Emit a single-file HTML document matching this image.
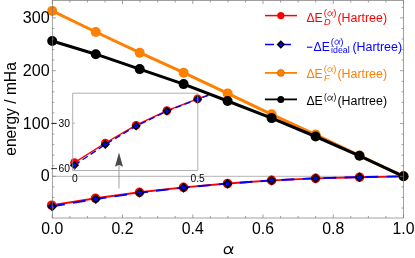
<!DOCTYPE html><html><head><meta charset="utf-8"><style>html,body{margin:0;padding:0;background:#fff;}body{width:415px;height:258px;overflow:hidden;position:relative;font-family:"Liberation Sans",sans-serif;}</style></head><body><svg width="415" height="258" viewBox="0 0 415 258" style="position:absolute;left:0;top:0;will-change:transform;font-family:'Liberation Sans',sans-serif">
<line x1="52.3" y1="176.3" x2="403.5" y2="176.3" stroke="#a0a0a0" stroke-width="0.8"/>
<line x1="119.0" y1="188.4" x2="119.0" y2="164" stroke="#505050" stroke-width="0.55"/>
<path d="M119.0,152.6 L123,166.7 L119.0,164.8 L115.0,166.7 Z" fill="#4a4a4a"/>
<polyline points="52.2,205.2 95.8,198.3 139.7,192.3 183.6,187.4 227.6,183.5 271.6,180.4 315.6,178.4 359.5,177.2 403.5,176.4" fill="none" stroke="#ff0000" stroke-width="1.9"/>
<circle cx="51.7" cy="205.2" r="4.8" fill="#ff0000" /><circle cx="95.5" cy="198.3" r="4.8" fill="#ff0000" /><circle cx="139.5" cy="192.3" r="4.8" fill="#ff0000" /><circle cx="183.5" cy="187.4" r="4.8" fill="#ff0000" /><circle cx="227.5" cy="183.5" r="4.8" fill="#ff0000" /><circle cx="271.6" cy="180.4" r="4.8" fill="#ff0000" /><circle cx="315.6" cy="178.4" r="4.8" fill="#ff0000" /><circle cx="359.5" cy="177.2" r="4.8" fill="#ff0000" /><circle cx="403.5" cy="176.4" r="4.8" fill="#ff0000" />
<polyline points="52.2,206.4 95.8,199.0 139.7,192.7 183.6,187.6 227.6,183.6 271.6,180.4 315.6,178.3 359.5,177.1 403.5,176.3" fill="none" stroke="#0000ff" stroke-width="1.9" stroke-dasharray="12.8 8.2"/>
<path d="M52.2,202.7 L56.0,206.5 L52.2,210.3 L48.4,206.5 Z" fill="#0000ff" stroke="#000" stroke-width="1.6"/><path d="M95.8,195.3 L99.6,199.1 L95.8,202.9 L92.0,199.1 Z" fill="#0000ff" stroke="#000" stroke-width="1.6"/><path d="M139.7,189.0 L143.5,192.8 L139.7,196.6 L135.9,192.8 Z" fill="#0000ff" stroke="#000" stroke-width="1.6"/><path d="M183.6,183.9 L187.4,187.7 L183.6,191.5 L179.8,187.7 Z" fill="#0000ff" stroke="#000" stroke-width="1.6"/><path d="M227.6,179.9 L231.4,183.7 L227.6,187.5 L223.8,183.7 Z" fill="#0000ff" stroke="#000" stroke-width="1.6"/><path d="M271.6,176.7 L275.4,180.5 L271.6,184.3 L267.8,180.5 Z" fill="#0000ff" stroke="#000" stroke-width="1.6"/><path d="M315.6,174.6 L319.4,178.4 L315.6,182.2 L311.8,178.4 Z" fill="#0000ff" stroke="#000" stroke-width="1.6"/><path d="M359.5,173.4 L363.3,177.2 L359.5,181.0 L355.7,177.2 Z" fill="#0000ff" stroke="#000" stroke-width="1.6"/><path d="M403.5,172.6 L407.3,176.4 L403.5,180.2 L399.7,176.4 Z" fill="#0000ff" stroke="#000" stroke-width="1.6"/>
<polyline points="74.5,162.6 105.3,143.0 136.1,125.2 166.9,110.6 197.6,98.9 208.3,95.1" fill="none" stroke="#ff0000" stroke-width="1.4"/>
<circle cx="74.5" cy="162.6" r="4.3" fill="#ff0000" /><circle cx="105.3" cy="143.0" r="4.3" fill="#ff0000" /><circle cx="136.1" cy="125.2" r="4.3" fill="#ff0000" /><circle cx="166.9" cy="110.6" r="4.3" fill="#ff0000" /><circle cx="197.6" cy="98.9" r="4.3" fill="#ff0000" />
<polyline points="74.5,165.2 105.3,144.4 136.1,126.0 166.9,111.1 197.6,99.2 208.3,95.3" fill="none" stroke="#0000ff" stroke-width="1.4" stroke-dasharray="6.3 3.4"/>
<path d="M74.5,161.7 L78.0,165.2 L74.5,168.7 L71.0,165.2 Z" fill="#0000ff" stroke="#000" stroke-width="1.5"/><path d="M105.3,140.9 L108.8,144.4 L105.3,147.9 L101.8,144.4 Z" fill="#0000ff" stroke="#000" stroke-width="1.5"/><path d="M136.1,122.5 L139.6,126.0 L136.1,129.5 L132.6,126.0 Z" fill="#0000ff" stroke="#000" stroke-width="1.5"/><path d="M166.9,107.6 L170.4,111.1 L166.9,114.6 L163.4,111.1 Z" fill="#0000ff" stroke="#000" stroke-width="1.5"/><path d="M197.6,95.7 L201.1,99.2 L197.6,102.7 L194.1,99.2 Z" fill="#0000ff" stroke="#000" stroke-width="1.5"/>
<polyline points="52.2,10.9 95.8,32.0 139.7,52.7 183.6,72.7 227.6,93.4 271.6,114.3 315.6,134.6 359.5,155.5 403.5,176.3" fill="none" stroke="#ff8000" stroke-width="3.0" stroke-linejoin="round"/>
<circle cx="52.2" cy="10.9" r="5.0" fill="#ff8000" /><circle cx="95.8" cy="32.0" r="5.0" fill="#ff8000" /><circle cx="139.7" cy="52.7" r="5.0" fill="#ff8000" /><circle cx="183.6" cy="72.7" r="5.0" fill="#ff8000" /><circle cx="227.6" cy="93.4" r="5.0" fill="#ff8000" /><circle cx="271.6" cy="114.3" r="5.0" fill="#ff8000" /><circle cx="315.6" cy="134.6" r="5.0" fill="#ff8000" /><circle cx="359.5" cy="155.5" r="5.0" fill="#ff8000" /><circle cx="403.5" cy="176.3" r="5.0" fill="#ff8000" />
<polyline points="52.2,41.0 95.8,54.2 139.7,69.1 183.6,84.1 227.6,101.0 271.6,118.1 315.6,136.5 359.5,155.8 403.5,176.3" fill="none" stroke="#000" stroke-width="3.0" stroke-linejoin="round"/>
<circle cx="52.2" cy="41.0" r="5.0" fill="#000" /><circle cx="95.8" cy="54.2" r="5.0" fill="#000" /><circle cx="139.7" cy="69.1" r="5.0" fill="#000" /><circle cx="183.6" cy="84.1" r="5.0" fill="#000" /><circle cx="227.6" cy="101.0" r="5.0" fill="#000" /><circle cx="271.6" cy="118.1" r="5.0" fill="#000" /><circle cx="315.6" cy="136.5" r="5.0" fill="#000" /><circle cx="359.5" cy="155.8" r="5.0" fill="#000" /><circle cx="403.5" cy="176.3" r="5.0" fill="#000" />
<g stroke="#787878" stroke-width="0.7" fill="none">
<rect x="52.3" y="0.5" width="351.2" height="217.5"/>
<line x1="52.3" y1="218.0" x2="52.3" y2="214.5"/>
<line x1="52.3" y1="0.5" x2="52.3" y2="4.0"/>
<line x1="69.9" y1="218.0" x2="69.9" y2="216.0"/>
<line x1="69.9" y1="0.5" x2="69.9" y2="2.5"/>
<line x1="87.4" y1="218.0" x2="87.4" y2="216.0"/>
<line x1="87.4" y1="0.5" x2="87.4" y2="2.5"/>
<line x1="105.0" y1="218.0" x2="105.0" y2="216.0"/>
<line x1="105.0" y1="0.5" x2="105.0" y2="2.5"/>
<line x1="122.5" y1="218.0" x2="122.5" y2="214.5"/>
<line x1="122.5" y1="0.5" x2="122.5" y2="4.0"/>
<line x1="140.1" y1="218.0" x2="140.1" y2="216.0"/>
<line x1="140.1" y1="0.5" x2="140.1" y2="2.5"/>
<line x1="157.7" y1="218.0" x2="157.7" y2="216.0"/>
<line x1="157.7" y1="0.5" x2="157.7" y2="2.5"/>
<line x1="175.2" y1="218.0" x2="175.2" y2="216.0"/>
<line x1="175.2" y1="0.5" x2="175.2" y2="2.5"/>
<line x1="192.8" y1="218.0" x2="192.8" y2="214.5"/>
<line x1="192.8" y1="0.5" x2="192.8" y2="4.0"/>
<line x1="210.3" y1="218.0" x2="210.3" y2="216.0"/>
<line x1="210.3" y1="0.5" x2="210.3" y2="2.5"/>
<line x1="227.9" y1="218.0" x2="227.9" y2="216.0"/>
<line x1="227.9" y1="0.5" x2="227.9" y2="2.5"/>
<line x1="245.5" y1="218.0" x2="245.5" y2="216.0"/>
<line x1="245.5" y1="0.5" x2="245.5" y2="2.5"/>
<line x1="263.0" y1="218.0" x2="263.0" y2="214.5"/>
<line x1="263.0" y1="0.5" x2="263.0" y2="4.0"/>
<line x1="280.6" y1="218.0" x2="280.6" y2="216.0"/>
<line x1="280.6" y1="0.5" x2="280.6" y2="2.5"/>
<line x1="298.1" y1="218.0" x2="298.1" y2="216.0"/>
<line x1="298.1" y1="0.5" x2="298.1" y2="2.5"/>
<line x1="315.7" y1="218.0" x2="315.7" y2="216.0"/>
<line x1="315.7" y1="0.5" x2="315.7" y2="2.5"/>
<line x1="333.3" y1="218.0" x2="333.3" y2="214.5"/>
<line x1="333.3" y1="0.5" x2="333.3" y2="4.0"/>
<line x1="350.8" y1="218.0" x2="350.8" y2="216.0"/>
<line x1="350.8" y1="0.5" x2="350.8" y2="2.5"/>
<line x1="368.4" y1="218.0" x2="368.4" y2="216.0"/>
<line x1="368.4" y1="0.5" x2="368.4" y2="2.5"/>
<line x1="385.9" y1="218.0" x2="385.9" y2="216.0"/>
<line x1="385.9" y1="0.5" x2="385.9" y2="2.5"/>
<line x1="403.5" y1="218.0" x2="403.5" y2="214.5"/>
<line x1="403.5" y1="0.5" x2="403.5" y2="4.0"/>
<line x1="52.3" y1="208.0" x2="54.3" y2="208.0"/>
<line x1="403.5" y1="208.0" x2="401.5" y2="208.0"/>
<line x1="52.3" y1="197.4" x2="54.3" y2="197.4"/>
<line x1="403.5" y1="197.4" x2="401.5" y2="197.4"/>
<line x1="52.3" y1="186.9" x2="54.3" y2="186.9"/>
<line x1="403.5" y1="186.9" x2="401.5" y2="186.9"/>
<line x1="52.3" y1="176.3" x2="55.8" y2="176.3"/>
<line x1="403.5" y1="176.3" x2="400.0" y2="176.3"/>
<line x1="52.3" y1="165.7" x2="54.3" y2="165.7"/>
<line x1="403.5" y1="165.7" x2="401.5" y2="165.7"/>
<line x1="52.3" y1="155.2" x2="54.3" y2="155.2"/>
<line x1="403.5" y1="155.2" x2="401.5" y2="155.2"/>
<line x1="52.3" y1="144.6" x2="54.3" y2="144.6"/>
<line x1="403.5" y1="144.6" x2="401.5" y2="144.6"/>
<line x1="52.3" y1="134.1" x2="54.3" y2="134.1"/>
<line x1="403.5" y1="134.1" x2="401.5" y2="134.1"/>
<line x1="52.3" y1="123.5" x2="55.8" y2="123.5"/>
<line x1="403.5" y1="123.5" x2="400.0" y2="123.5"/>
<line x1="52.3" y1="112.9" x2="54.3" y2="112.9"/>
<line x1="403.5" y1="112.9" x2="401.5" y2="112.9"/>
<line x1="52.3" y1="102.4" x2="54.3" y2="102.4"/>
<line x1="403.5" y1="102.4" x2="401.5" y2="102.4"/>
<line x1="52.3" y1="91.8" x2="54.3" y2="91.8"/>
<line x1="403.5" y1="91.8" x2="401.5" y2="91.8"/>
<line x1="52.3" y1="81.3" x2="54.3" y2="81.3"/>
<line x1="403.5" y1="81.3" x2="401.5" y2="81.3"/>
<line x1="52.3" y1="70.7" x2="55.8" y2="70.7"/>
<line x1="403.5" y1="70.7" x2="400.0" y2="70.7"/>
<line x1="52.3" y1="60.1" x2="54.3" y2="60.1"/>
<line x1="403.5" y1="60.1" x2="401.5" y2="60.1"/>
<line x1="52.3" y1="49.6" x2="54.3" y2="49.6"/>
<line x1="403.5" y1="49.6" x2="401.5" y2="49.6"/>
<line x1="52.3" y1="39.0" x2="54.3" y2="39.0"/>
<line x1="403.5" y1="39.0" x2="401.5" y2="39.0"/>
<line x1="52.3" y1="28.5" x2="54.3" y2="28.5"/>
<line x1="403.5" y1="28.5" x2="401.5" y2="28.5"/>
<line x1="52.3" y1="17.9" x2="55.8" y2="17.9"/>
<line x1="403.5" y1="17.9" x2="400.0" y2="17.9"/>
<line x1="52.3" y1="7.3" x2="54.3" y2="7.3"/>
<line x1="403.5" y1="7.3" x2="401.5" y2="7.3"/>
</g>
<g stroke="#9a9a9a" stroke-width="0.8" fill="none"><path d="M72.7,170.5 L72.7,93.2 L197.8,93.2 L197.8,170.5 Z M72.7,123.3 h2 M72.7,168.6 h2"/></g>
<line x1="265" y1="15.6" x2="297" y2="15.6" stroke="#ff0000" stroke-width="1.5"/><circle cx="280.8" cy="15.6" r="3.6" fill="#ff0000"/>
<line x1="265" y1="44.6" x2="291" y2="44.6" stroke="#0000ff" stroke-width="1.5" stroke-dasharray="9 9"/>
<path d="M280.8,41.4 L284.0,44.6 L280.8,47.8 L277.6,44.6 Z" fill="#0000ff" stroke="#000" stroke-width="1.5"/>
<line x1="265" y1="72.9" x2="297" y2="72.9" stroke="#ff8000" stroke-width="1.8"/><circle cx="280.8" cy="72.9" r="3.5" fill="#ff8000" stroke="#c06000" stroke-width="0.6"/>
<line x1="265" y1="99.4" x2="297" y2="99.4" stroke="#000" stroke-width="1.8"/><circle cx="280.8" cy="99.4" r="3.5" fill="#000"/>
<g font-size="16.1" fill="#000" text-anchor="end">
<text x="49.6" y="181.3">0</text>
<text x="49.6" y="128.5">100</text>
<text x="49.6" y="75.7">200</text>
<text x="49.6" y="22.9">300</text>
</g>
<g font-size="15.8" fill="#000" text-anchor="middle">
<text x="52.3" y="234">0.0</text>
<text x="122.5" y="234">0.2</text>
<text x="192.8" y="234">0.4</text>
<text x="263.0" y="234">0.6</text>
<text x="333.3" y="234">0.8</text>
<text x="403.5" y="234">1.0</text>
</g>
<g font-size="10.3" fill="#000">
<text x="69.9" y="126.7" text-anchor="end">30</text>
<text x="69.9" y="172.2" text-anchor="end">60</text>
<path d="M51.3,123.4 H56.8 M51.3,168.6 H57" stroke="#000" stroke-width="0.8"/>
<text x="74.8" y="181.9" text-anchor="middle">0</text>
<text x="197.6" y="181.9" text-anchor="middle">0.5</text>
</g>
<path transform="translate(223.8,254) scale(1)" d="M9.2,-7.6 C8.5,-5 6.5,-0.3 3.3,-0.3 C1.2,-0.3 0.5,-1.6 0.5,-3.0 C0.5,-5.3 2.0,-7.5 4.3,-7.5 C6.4,-7.5 6.9,-5.3 7.1,-3 C7.2,-1.4 7.7,-0.5 9.3,-0.7" fill="none" stroke="#000" stroke-width="1.25" stroke-linecap="butt"/>
<text transform="translate(15.5,109.0) rotate(-90)" font-size="15.6" text-anchor="middle">energy / mHa</text>
<g fill="#ff0000"><text x="306.4" y="21.6" font-size="12.2">ΔE</text><text x="323.7" y="16.0" font-size="9.6">(</text><path transform="translate(327.4,16.0) scale(0.6)" d="M9.2,-7.6 C8.5,-5 6.5,-0.3 3.3,-0.3 C1.2,-0.3 0.5,-1.6 0.5,-3.0 C0.5,-5.3 2.0,-7.5 4.3,-7.5 C6.4,-7.5 6.9,-5.3 7.1,-3 C7.2,-1.4 7.7,-0.5 9.3,-0.7" fill="none" stroke="#ff0000" stroke-width="1.30" stroke-linecap="butt"/><text x="333.2" y="16.0" font-size="9.6">)</text><text x="324.0" y="24.700000000000003" font-size="9.2" font-style="italic">D</text><text x="337.4" y="21.6" font-size="12.42">(Hartree)</text></g>
<g fill="#0000ff"><path d="M306.9,47.2 H312.3" stroke="#0000ff" stroke-width="1.1"/><text x="313.5" y="51.0" font-size="12.2">ΔE</text><text x="330.8" y="44.5" font-size="9.6">(</text><path transform="translate(334.5,44.5) scale(0.6)" d="M9.2,-7.6 C8.5,-5 6.5,-0.3 3.3,-0.3 C1.2,-0.3 0.5,-1.6 0.5,-3.0 C0.5,-5.3 2.0,-7.5 4.3,-7.5 C6.4,-7.5 6.9,-5.3 7.1,-3 C7.2,-1.4 7.7,-0.5 9.3,-0.7" fill="none" stroke="#0000ff" stroke-width="1.30" stroke-linecap="butt"/><text x="340.3" y="44.5" font-size="9.6">)</text><text x="331.1" y="52.9" font-size="8.8">ideal</text><text x="352.4" y="51.0" font-size="12.42">(Hartree)</text></g>
<g fill="#ff8000"><text x="306.4" y="77.6" font-size="12.2">ΔE</text><text x="323.7" y="72.0" font-size="9.6">(</text><path transform="translate(327.4,72.0) scale(0.6)" d="M9.2,-7.6 C8.5,-5 6.5,-0.3 3.3,-0.3 C1.2,-0.3 0.5,-1.6 0.5,-3.0 C0.5,-5.3 2.0,-7.5 4.3,-7.5 C6.4,-7.5 6.9,-5.3 7.1,-3 C7.2,-1.4 7.7,-0.5 9.3,-0.7" fill="none" stroke="#ff8000" stroke-width="1.30" stroke-linecap="butt"/><text x="333.2" y="72.0" font-size="9.6">)</text><text x="324.0" y="81.19999999999999" font-size="9.2" font-style="italic">F</text><text x="337.4" y="77.6" font-size="12.42">(Hartree)</text></g>
<g fill="#000"><text x="306.4" y="104.9" font-size="12.2">ΔE</text><text x="324.0" y="100.4" font-size="8.4">(</text><path transform="translate(327.3,100.5) scale(0.6)" d="M9.2,-7.6 C8.5,-5 6.5,-0.3 3.3,-0.3 C1.2,-0.3 0.5,-1.6 0.5,-3.0 C0.5,-5.3 2.0,-7.5 4.3,-7.5 C6.4,-7.5 6.9,-5.3 7.1,-3 C7.2,-1.4 7.7,-0.5 9.3,-0.7" fill="none" stroke="#000" stroke-width="1.30" stroke-linecap="butt"/><text x="333.5" y="100.4" font-size="8.4">)</text><text x="337.4" y="104.9" font-size="12.42">(Hartree)</text></g>
</svg></body></html>
